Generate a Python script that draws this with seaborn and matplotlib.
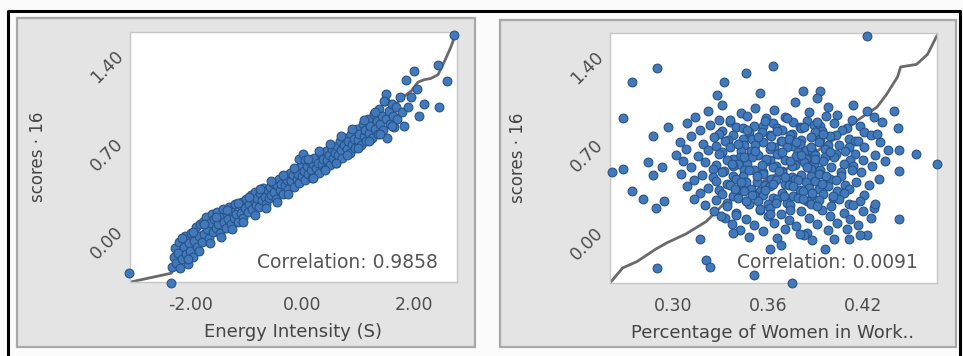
import matplotlib
matplotlib.use("Agg")
import matplotlib.pyplot as plt
from matplotlib.patches import Rectangle
from matplotlib.lines import Line2D
import seaborn as sns
import pandas as pd

# ---------------- data: left panel (Energy Intensity vs scores 16) ----------------
energy_x = [
    -3.10, -2.34,
    -2.32, -2.30, -2.27, -2.25, -2.22, -2.20, -2.18, -2.15, -2.12, -2.10, -2.08,
    -2.05, -2.03, -2.00, -1.98, -1.95, -1.93, -1.90, -1.88, -1.85, -1.83, -1.80,
    -1.78, -1.75, -1.72, -1.70, -1.67, -1.65, -1.62, -1.60, -1.57, -1.55, -1.52, -1.50,
    -1.47, -1.45, -1.42, -1.40, -1.37, -1.35, -1.32, -1.30, -1.27, -1.25, -1.22, -1.20,
    -1.18, -1.15, -1.12, -1.10, -1.07, -1.05, -1.02, -1.00, -0.97, -0.95, -0.92, -0.90,
    -0.87, -0.85, -0.82, -0.80, -0.77, -0.75, -0.72, -0.70, -0.67, -0.65, -0.62, -0.60,
    -0.58, -0.55, -0.52, -0.50, -0.47, -0.45, -0.42, -0.40, -0.37, -0.35, -0.32, -0.30,
    -0.27, -0.25, -0.22, -0.20, -0.17, -0.15, -0.12, -0.10, -0.07, -0.05, -0.02, 0.00,
    -0.05, 0.02, 0.05,
    0.03, 0.05, 0.08, 0.10, 0.12, 0.15, 0.18, 0.20, 0.22, 0.25, 0.28, 0.30,
    0.33, 0.35, 0.38, 0.40, 0.43, 0.45, 0.48, 0.50, 0.53, 0.55, 0.58, 0.60,
    0.62, 0.65, 0.68, 0.70, 0.72, 0.75, 0.78, 0.80, 0.82, 0.85, 0.88, 0.90,
    0.92, 0.95, 0.98, 1.00, 1.02, 1.05, 1.08, 1.10, 1.12, 1.15, 1.18, 1.20,
    1.22, 1.25, 1.28, 1.30, 1.33, 1.35, 1.38, 1.40, 1.43, 1.45, 1.48,
    1.50, 1.52, 1.55, 1.58, 1.60, 1.63, 1.65, 1.68, 1.70, 1.75, 1.78,
    1.86, 2.00, 2.43, 2.60, 2.18, 2.45, 2.09, 1.82, 1.50, 1.46, 2.71, 1.95, 2.05, 1.90,
    -2.15, -1.95, -1.75, -1.55, -1.35, -1.15, -0.95, -0.75, -0.55, -0.35, -0.15, 0.10,
    0.30, 0.50, 0.70, 0.90, 1.10, 1.30,
    -2.05, -1.85, -1.65, -1.45, -1.25, -1.05, -0.85, -0.65, -0.45, -0.25, 0.20, 0.40,
    0.60, 0.80, 1.00, 1.20, 1.40, 1.60,
]
energy_scores = [
    -0.35, -0.43,
    -0.30, -0.22, -0.15, -0.27, -0.19, -0.10, -0.31, -0.24, -0.14, -0.05, -0.20,
    -0.28, -0.11, -0.17, -0.03, -0.22, -0.09, 0.02, -0.14, -0.05, 0.04, -0.10,
    0.06, -0.04, 0.10, 0.00, -0.07, 0.05, 0.12, -0.02, 0.08, 0.01, 0.14, 0.04,
    -0.03, 0.10, 0.16, 0.06, 0.01, 0.12, 0.08, 0.18, 0.04, 0.14, 0.09, 0.20,
    0.12, 0.06, 0.19, 0.13, 0.22, 0.09, 0.17, 0.24, 0.14, 0.20, 0.27, 0.16,
    0.23, 0.30, 0.19, 0.25, 0.18, 0.29, 0.23, 0.33, 0.26, 0.20, 0.31, 0.25,
    0.34, 0.27, 0.37, 0.30, 0.24, 0.35, 0.40, 0.31, 0.36, 0.28, 0.42, 0.35,
    0.39, 0.32, 0.45, 0.38, 0.43, 0.34, 0.48, 0.40, 0.44, 0.37, 0.50, 0.42,
    0.56, 0.60, 0.55,
    0.46, 0.39, 0.50, 0.44, 0.54, 0.47, 0.41, 0.52, 0.57, 0.49, 0.53, 0.45,
    0.60, 0.52, 0.56, 0.48, 0.62, 0.55, 0.59, 0.51, 0.64, 0.57, 0.61, 0.53,
    0.66, 0.59, 0.70, 0.63, 0.57, 0.67, 0.73, 0.64, 0.70, 0.61, 0.76, 0.68,
    0.72, 0.65, 0.80, 0.71, 0.76, 0.67, 0.84, 0.74, 0.79, 0.70, 0.88, 0.77,
    0.82, 0.73, 0.92, 0.80, 0.86, 0.76, 0.96, 0.84, 0.90, 0.79, 1.02,
    0.88, 0.73, 0.94, 0.84, 1.00, 0.90, 0.81, 0.97, 0.88, 1.05, 0.93,
    1.19, 1.26, 1.31, 1.18, 1.00, 0.97, 0.90, 0.82, 1.08, 1.02, 1.55, 1.05, 1.12, 0.97,
    -0.07, -0.02, 0.04, 0.10, 0.15, 0.21, 0.26, 0.32, 0.38, 0.43, 0.49, 0.56,
    0.62, 0.68, 0.74, 0.80, 0.87, 0.93,
    -0.24, -0.17, -0.11, -0.06, 0.00, 0.06, 0.11, 0.17, 0.22, 0.28, 0.41, 0.47,
    0.53, 0.59, 0.65, 0.70, 0.76, 0.82,
]
# reference (quantile) line, left panel
energy_line_x = [-3.07, -2.34, -2.25, -2.10, -1.90, -1.60, -1.20, -0.80, -0.40, 0.00, 0.40, 0.80,
                 1.20, 1.50, 1.77, 1.95, 2.07, 2.18, 2.30, 2.43, 2.54, 2.66, 2.75]
energy_line_y = [-0.42, -0.35, -0.22, -0.13, -0.05, 0.02, 0.12, 0.22, 0.33, 0.44, 0.56, 0.68,
                 0.79, 0.90, 1.04, 1.10, 1.17, 1.19, 1.20, 1.23, 1.33, 1.45, 1.56]

# ---------------- data: right panel (Percentage of Women in Work.. vs scores 16) ----------------
women_core_x = [
    0.331, 0.352, 0.377, 0.398, 0.414,
    0.322, 0.343, 0.364, 0.386, 0.404, 0.423,
    0.314, 0.329, 0.347, 0.359, 0.371, 0.385, 0.397, 0.413, 0.427,
    0.309, 0.323, 0.336, 0.351, 0.363, 0.376, 0.389, 0.402, 0.418, 0.432,
    0.340, 0.357, 0.366, 0.380, 0.393, 0.410,
    0.317, 0.331, 0.344, 0.356, 0.369, 0.381, 0.394, 0.407, 0.421,
    0.329, 0.348, 0.361, 0.375, 0.390, 0.403,
    0.311, 0.326, 0.338, 0.350, 0.362, 0.374, 0.387, 0.399, 0.411, 0.425,
    0.335, 0.344, 0.368, 0.381, 0.393, 0.415,
    0.304, 0.319, 0.333, 0.345, 0.357, 0.369, 0.380, 0.392, 0.405, 0.417, 0.431,
    0.327, 0.352, 0.364, 0.376, 0.398, 0.411,
    0.308, 0.322, 0.336, 0.349, 0.361, 0.372, 0.384, 0.396, 0.409, 0.421, 0.436,
    0.331, 0.343, 0.367, 0.379, 0.388, 0.403,
    0.302, 0.316, 0.329, 0.342, 0.354, 0.366, 0.378, 0.390, 0.402, 0.415, 0.428,
    0.338, 0.350, 0.361, 0.384, 0.396, 0.412,
    0.306, 0.320, 0.334, 0.347, 0.359, 0.371, 0.383, 0.395, 0.408, 0.420, 0.434,
    0.327, 0.341, 0.365, 0.377, 0.389, 0.414,
    0.311, 0.325, 0.338, 0.351, 0.363, 0.375, 0.387, 0.400, 0.413, 0.426,
    0.332, 0.345, 0.357, 0.369, 0.393, 0.406,
    0.305, 0.318, 0.331, 0.344, 0.357, 0.369, 0.381, 0.393, 0.406, 0.419,
    0.325, 0.338, 0.362, 0.375, 0.387, 0.399,
    0.313, 0.327, 0.340, 0.353, 0.365, 0.377, 0.390, 0.403, 0.416, 0.430,
    0.334, 0.346, 0.358, 0.371, 0.384, 0.409,
    0.309, 0.322, 0.336, 0.349, 0.361, 0.373, 0.386, 0.398, 0.411, 0.424,
    0.329, 0.342, 0.355, 0.380, 0.392, 0.404,
    0.317, 0.331, 0.345, 0.357, 0.369, 0.382, 0.395, 0.408, 0.421,
    0.338, 0.351, 0.363, 0.376, 0.388, 0.401,
    0.313, 0.327, 0.341, 0.354, 0.366, 0.379, 0.392, 0.405, 0.418,
    0.334, 0.347, 0.360, 0.372, 0.385, 0.411,
    0.320, 0.334, 0.348, 0.361, 0.374, 0.387, 0.400, 0.414, 0.427,
    0.326, 0.340, 0.355, 0.368, 0.381, 0.394, 0.408, 0.420,
    0.333, 0.346, 0.360, 0.373, 0.386, 0.399, 0.412, 0.425,
    0.337, 0.351, 0.364, 0.378, 0.391, 0.404, 0.417,
    0.342, 0.357, 0.371, 0.385, 0.398, 0.410,
    0.348, 0.366, 0.383, 0.402,
    0.336, 0.358, 0.372, 0.391, 0.347, 0.366, 0.383, 0.354, 0.373, 0.395,
    0.341, 0.362, 0.378, 0.352, 0.369, 0.387, 0.345, 0.359, 0.381, 0.399,
    0.337, 0.356, 0.374, 0.390, 0.348, 0.367, 0.385, 0.353, 0.371, 0.392,
    0.343, 0.363, 0.379, 0.397, 0.339, 0.358, 0.376, 0.394, 0.350, 0.370,
    0.388, 0.346, 0.365, 0.382, 0.401, 0.355, 0.374, 0.391, 0.340, 0.361,
]
women_core_scores = [
    1.00, 0.97, 1.02, 0.98, 1.00,
    0.95, 0.93, 0.96, 0.94, 0.92, 0.95,
    0.90, 0.88, 0.91, 0.89, 0.90, 0.87, 0.91, 0.88, 0.90,
    0.85, 0.84, 0.86, 0.83, 0.85, 0.86, 0.84, 0.85, 0.83, 0.86,
    0.82, 0.83, 0.81, 0.82, 0.83, 0.81,
    0.80, 0.79, 0.81, 0.78, 0.80, 0.81, 0.79, 0.80, 0.78,
    0.77, 0.78, 0.76, 0.77, 0.78, 0.76,
    0.75, 0.74, 0.76, 0.73, 0.75, 0.76, 0.74, 0.75, 0.73, 0.76,
    0.72, 0.73, 0.71, 0.72, 0.73, 0.71,
    0.70, 0.69, 0.71, 0.68, 0.70, 0.71, 0.69, 0.70, 0.68, 0.71, 0.70,
    0.67, 0.68, 0.66, 0.67, 0.68, 0.66,
    0.65, 0.64, 0.66, 0.63, 0.65, 0.66, 0.64, 0.65, 0.63, 0.66, 0.64,
    0.62, 0.63, 0.61, 0.62, 0.63, 0.61,
    0.60, 0.59, 0.61, 0.58, 0.60, 0.61, 0.59, 0.60, 0.58, 0.61, 0.60,
    0.57, 0.58, 0.56, 0.57, 0.58, 0.56,
    0.55, 0.54, 0.56, 0.53, 0.55, 0.56, 0.54, 0.55, 0.53, 0.56, 0.55,
    0.52, 0.53, 0.51, 0.52, 0.53, 0.51,
    0.50, 0.49, 0.51, 0.48, 0.50, 0.51, 0.49, 0.50, 0.48, 0.51,
    0.47, 0.48, 0.46, 0.47, 0.48, 0.46,
    0.45, 0.44, 0.46, 0.43, 0.45, 0.46, 0.44, 0.45, 0.43, 0.46,
    0.42, 0.43, 0.41, 0.42, 0.43, 0.41,
    0.40, 0.39, 0.41, 0.38, 0.40, 0.41, 0.39, 0.40, 0.38, 0.41,
    0.37, 0.38, 0.36, 0.37, 0.38, 0.36,
    0.35, 0.34, 0.36, 0.33, 0.35, 0.36, 0.34, 0.35, 0.33, 0.36,
    0.32, 0.33, 0.31, 0.32, 0.33, 0.31,
    0.30, 0.29, 0.31, 0.28, 0.30, 0.31, 0.29, 0.30, 0.28,
    0.27, 0.28, 0.26, 0.27, 0.28, 0.26,
    0.25, 0.24, 0.26, 0.23, 0.25, 0.26, 0.24, 0.25, 0.23,
    0.22, 0.23, 0.21, 0.22, 0.23, 0.21,
    0.20, 0.19, 0.21, 0.18, 0.20, 0.21, 0.19, 0.20, 0.18,
    0.15, 0.14, 0.16, 0.13, 0.15, 0.16, 0.14, 0.15,
    0.10, 0.09, 0.11, 0.08, 0.10, 0.11, 0.09, 0.10,
    0.05, 0.04, 0.06, 0.03, 0.05, 0.06, 0.04,
    0.00, -0.01, 0.01, -0.02, 0.00, 0.01,
    -0.05, -0.06, -0.04, -0.07,
    0.88, 0.87, 0.89, 0.86, 0.80, 0.79, 0.82, 0.74, 0.73, 0.77,
    0.69, 0.67, 0.70, 0.63, 0.62, 0.66, 0.58, 0.57, 0.60, 0.62,
    0.53, 0.52, 0.55, 0.57, 0.48, 0.47, 0.50, 0.43, 0.42, 0.45,
    0.38, 0.37, 0.40, 0.43, 0.33, 0.32, 0.35, 0.37, 0.28, 0.27,
    0.30, 0.23, 0.22, 0.25, 0.27, 0.17, 0.16, 0.19, 0.12, 0.13,
]
women_out_x = [0.290, 0.274, 0.268, 0.261, 0.268, 0.274, 0.281, 0.287, 0.297, 0.284, 0.287, 0.293,
               0.289, 0.294, 0.290, 0.363, 0.346, 0.332, 0.328, 0.423, 0.382, 0.393, 0.391, 0.355,
               0.454, 0.467, 0.440, 0.442, 0.443, 0.443, 0.443, 0.429, 0.428, 0.423, 0.418, 0.411,
               0.375, 0.351, 0.396, 0.321, 0.323, 0.317, 0.338, 0.330, 0.361, 0.368, 0.380, 0.388]
women_out_scores = [1.29, 1.18, 0.89, 0.46, 0.49, 0.31, 0.25, 0.75, 0.82, 0.54, 0.44, 0.50,
                    0.18, 0.23, -0.30, 1.31, 1.25, 1.18, 1.08, 1.55, 1.11, 1.11, 1.05, 1.09,
                    0.61, 0.53, 0.95, 0.81, 0.64, 0.47, 0.09, 0.77, 0.21, -0.04, -0.04, -0.07,
                    -0.42, -0.36, -0.15, -0.24, -0.29, -0.07, -0.02, 0.11, -0.15, -0.12, -0.03, -0.08]
women_line_x = [0.260, 0.268, 0.277, 0.289, 0.296, 0.308, 0.321, 0.332, 0.346, 0.360, 0.375,
                0.390, 0.404, 0.416, 0.429, 0.435, 0.442, 0.444, 0.454, 0.461, 0.467]
women_line_y = [-0.42, -0.30, -0.25, -0.15, -0.10, -0.03, 0.07, 0.21, 0.31, 0.41, 0.51,
                0.62, 0.74, 0.87, 0.98, 1.08, 1.22, 1.30, 1.32, 1.40, 1.55]

y_ticks = [0.00, 0.70, 1.40]
left_x_ticks = [-2.00, 0.00, 2.00]
right_x_ticks = [0.30, 0.36, 0.42]
y_label = "scores · 16"
left_x_label = "Energy Intensity (S)"
right_x_label = "Percentage of Women in Work.."
left_corr = "Correlation: 0.9858"
right_corr = "Correlation: 0.0091"

# ---------------- figure ----------------
sns.set_theme(style="white")
plt.rcParams["font.family"] = ["DejaVu Sans"]

W, H = 963, 356
fig = plt.figure(figsize=(W / 100, H / 100), dpi=100)
fig.patch.set_facecolor("#fbfbfb")

def fx(px):
    return px / W

def fy(py):
    return 1 - py / H

# grey panel boxes
for (x0, y0, x1, y1) in [(17, 18, 475, 347), (500, 20, 956, 347)]:
    fig.add_artist(Rectangle((fx(x0), fy(y1)), fx(x1) - fx(x0), fy(y0) - fy(y1),
                             transform=fig.transFigure, facecolor="#e4e4e4",
                             edgecolor="#a8a8a8", lw=1.6, zorder=0))
# black outer frame
fig.add_artist(Line2D([fx(8), fx(8), fx(960), fx(960)], [0, fy(11), fy(11), 0],
                      transform=fig.transFigure, color="black", lw=2.2, zorder=1))

pt_face = "#4279bb"
pt_edge = "#27538a"
tick_col = "#4d4d4d"

def setup(ax, xlim, xticks, xlabel, corr):
    ax.set_facecolor("white")
    ax.set_xlim(*xlim)
    ax.set_ylim(-0.42, 1.57)
    for s in ax.spines.values():
        s.set_color("#c6c6c6")
        s.set_linewidth(1.0)
    ax.set_xticks(xticks)
    ax.set_xticklabels([f"{v:.2f}" for v in xticks])
    ax.set_yticks(y_ticks)
    ax.set_yticklabels([f"{v:.2f}" for v in y_ticks], rotation=45, ha="right",
                       va="center", rotation_mode="anchor")
    ax.tick_params(axis="both", direction="out", length=4, width=0.8, color="#9a9a9a",
                   labelsize=12.5, labelcolor=tick_col)
    ax.tick_params(axis="x", pad=6)
    ax.tick_params(axis="y", pad=3)
    ax.set_xlabel(xlabel, fontsize=13, color="#444444")
    ax.xaxis.set_label_coords(0.497, -0.165)
    ax.set_ylabel(y_label, fontsize=12, color="#444444")
    ax.yaxis.set_label_coords(-0.255, 0.5)
    ax.text(0.94, 0.08, corr, transform=ax.transAxes, ha="right", va="center",
            fontsize=13.5, color="#555555", zorder=10)

ax1 = fig.add_axes([fx(130), fy(282), fx(457) - fx(130), fy(32) - fy(282)])
ax2 = fig.add_axes([fx(610), fy(283), fx(937) - fx(610), fy(33) - fy(283)])

left_df = pd.DataFrame({"x": energy_x, "y": energy_scores})
right_df = pd.DataFrame({"x": women_core_x + women_out_x, "y": women_core_scores + women_out_scores})

sns.lineplot(x=energy_line_x, y=energy_line_y, sort=False, estimator=None, color="#6a6a6a",
             lw=2.0, ax=ax1, zorder=2)
sns.scatterplot(data=left_df, x="x", y="y", ax=ax1, s=40, color=pt_face, edgecolor=pt_edge,
                linewidth=0.8, zorder=3, clip_on=False)
sns.lineplot(x=women_line_x, y=women_line_y, sort=False, estimator=None, color="#6a6a6a",
             lw=2.0, ax=ax2, zorder=2)
sns.scatterplot(data=right_df, x="x", y="y", ax=ax2, s=40, color=pt_face, edgecolor=pt_edge,
                linewidth=0.8, zorder=3, clip_on=False)

setup(ax1, (-3.08, 2.77), left_x_ticks, left_x_label, left_corr)
setup(ax2, (0.260, 0.467), right_x_ticks, right_x_label, right_corr)

fig.savefig("out.png", dpi=100, facecolor=fig.get_facecolor())
